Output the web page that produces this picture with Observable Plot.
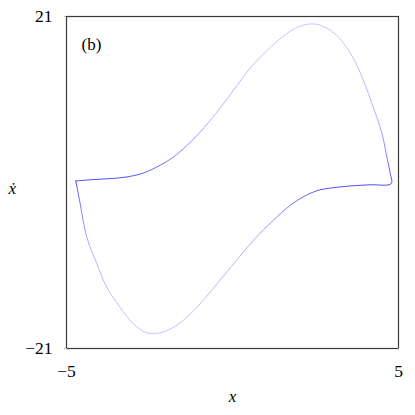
<!DOCTYPE html>
<html>
<head>
<meta charset="utf-8">
<script src="https://cdn.jsdelivr.net/npm/d3@7"></script>
<script src="https://cdn.jsdelivr.net/npm/@observablehq/plot@0.6"></script>
<style>
  html, body { margin: 0; padding: 0; background: white; }
</style>
</head>
<body>
<div id="chart"></div>
<script>
// Phase-portrait samples (x, x-dot), in trajectory order
const xs = [-4.72,-4.59,-4.20,-3.69,-3.19,-2.69,-2.18,-1.79,-1.38,-0.98,-0.47,0.03,0.53,0.89,1.28,1.74,2.04,2.34,2.64,3.03,3.39,3.70,3.94,4.24,4.50,4.67,4.75,4.78,4.15,3.54,3.06,2.58,2.16,1.74,1.23,0.63,0.11,-0.43,-0.83,-1.28,-1.73,-2.12,-2.39,-2.63,-3.00,-3.39,-3.79,-4.09,-4.39,-4.59,-4.72];
const vs = [0.19,0.24,0.37,0.49,0.70,1.19,2.18,3.19,4.65,6.35,8.89,11.67,14.46,16.10,17.62,19.14,19.77,20.06,19.90,19.01,17.37,15.22,12.94,9.52,6.23,2.81,1.16,-0.14,-0.29,-0.44,-0.65,-0.99,-1.75,-2.89,-4.78,-7.32,-9.91,-12.63,-14.66,-16.68,-18.20,-18.96,-19.09,-18.96,-17.82,-15.76,-13.23,-10.23,-6.90,-2.63,0.19];
const xTicks = [-5, 5];
const yTicks = [-21, 21];
const panelLabel = "(b)";
const xLabel = "x";
const yLabel = "ẋ";

const pts = xs.map((x, i) => ({x, v: vs[i]}));
const FONT = "'Times New Roman', 'Liberation Serif', Times, serif";

const chart = Plot.plot({
  width: 415,
  height: 415,
  marginLeft: 66,
  marginRight: 17,
  marginTop: 16,
  marginBottom: 67,
  style: {fontFamily: FONT, fontSize: "17px", background: "white", color: "black"},
  x: {domain: [-5, 5], label: null},
  y: {domain: [-21, 21], label: null},
  marks: [
    Plot.line(pts, {x: "x", y: "v", stroke: "#9a9aff", strokeWidth: 0.85, curve: "catmull-rom"}),
    Plot.frame({stroke: "#3a3a3a", strokeWidth: 1.2}),
    Plot.axisX(xTicks, {tickSize: 2, tickPadding: 14, stroke: "#bbb", fill: "black", label: null, fontSize: 17.5}),
    Plot.axisY(yTicks, {tickSize: 2, tickPadding: 12, stroke: "#bbb", fill: "black", label: null, fontSize: 17.5}),
    Plot.text([panelLabel], {frameAnchor: "top-left", dx: 15, dy: 21, text: d => d, textAnchor: "start", fontSize: 17}),
    Plot.text([xLabel], {frameAnchor: "bottom", dy: 53, text: d => d, fontStyle: "italic", fontSize: 17}),
    Plot.text([yLabel], {frameAnchor: "left", dx: -58, dy: 6, text: d => d, fontStyle: "italic", fontSize: 17})
  ]
});

const svg = d3.select(chart);
svg.selectAll("text").attr("font-family", FONT).style("font-family", FONT);

// vertical gradient: dense (slow) parts near x-dot = 0 appear darker
const defs = svg.insert("defs", ":first-child");
const grad = defs.append("linearGradient")
  .attr("id", "slowfast")
  .attr("gradientUnits", "userSpaceOnUse")
  .attr("x1", 0).attr("x2", 0).attr("y1", 16).attr("y2", 348);
[[0, "#bcbcff"], [0.30, "#a4a4ff"], [0.42, "#6666ff"], [0.5, "#2424ff"], [0.58, "#6666ff"], [0.70, "#a4a4ff"], [1, "#bcbcff"]]
  .forEach(([o, c]) => grad.append("stop").attr("offset", o).attr("stop-color", c));
svg.selectAll('g[aria-label="line"]').attr("stroke", "url(#slowfast)");
svg.selectAll('g[aria-label="line"] path').attr("stroke", "url(#slowfast)");

document.getElementById("chart").appendChild(chart);
</script>
</body>
</html>
